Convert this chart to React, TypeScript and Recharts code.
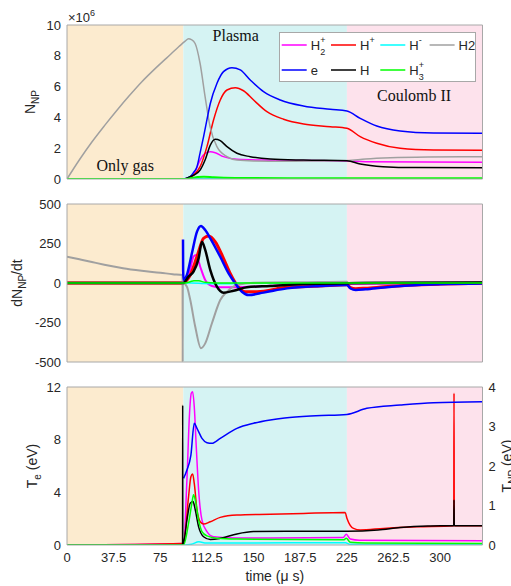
import { LineChart, Line, XAxis, YAxis, ReferenceArea, ReferenceDot, Legend } from 'recharts'

type Pt = [number, number]

const T_END = 334
const X_TICKS = [0, 37.5, 75, 112.5, 150, 187.5, 225, 262.5, 300]

const PHASES = [
  { from: 0, to: 93.5, fill: '#fcebcf' },
  { from: 93.5, to: 225, fill: '#d5f3f3' },
  { from: 225, to: T_END, fill: '#fde2ec' },
]
const PHASE_LABELS = [
  { text: 'Only gas', t: 46.8, n: 0.9 },
  { text: 'Plasma', t: 135.6, n: 9.32 },
  { text: 'Coulomb II', t: 279, n: 5.45 },
]

const C = {
  h2p: '#ff00ff',
  hp: '#ff0000',
  hm: '#00ffff',
  h2: '#a0a0a0',
  e: '#0000ff',
  h: '#000000',
  h3p: '#00ff00',
}

const AXIS = '#a8a8a8'
const TEXT = '#262626'
const FONT = '"Liberation Sans", Arial, sans-serif'

// ---- panel 1: number of particles (x 1e6)
const N_H2P: Pt[] = [[0, 0], [93.5, 0], [99, 0.05], [103, 0.5], [107, 1.23], [111, 1.67], [115.2, 1.77], [119.2, 1.71], [125.8, 1.45], [136.6, 1.28], [163, 1.22], [225, 1.17], [240, 1.12], [334, 1.08]]
const N_HP: Pt[] = [[0, 0], [93.5, 0], [99, 0.12], [103, 0.35], [107, 0.8], [112.5, 2.1], [117.8, 3.83], [123.2, 5.13], [128.6, 5.78], [135.3, 5.93], [141.9, 5.73], [150, 5.13], [160.7, 4.37], [174.1, 3.88], [190.2, 3.57], [211.6, 3.4], [225, 3.29], [235.7, 2.75], [249, 2.32], [267.8, 1.99], [294.6, 1.88], [334, 1.86]]
const N_HM: Pt[] = [[0, 0], [95, 0], [110, 0.02], [150, 0.02], [334, 0.01]]
const N_H2: Pt[] = [[0, 0], [10, 1.25], [20, 2.4], [30, 3.45], [40, 4.45], [50, 5.4], [60, 6.3], [70, 7.1], [80, 7.85], [90, 8.6], [95, 8.95], [97.7, 9.1], [100, 9.05], [103, 8.8], [107, 7.5], [111, 5.35], [115, 3.4], [120.5, 2.1], [128.6, 1.45], [136.6, 1.23], [150, 1.17], [175, 1.15], [200, 1.17], [225, 1.2], [240, 1.3], [260, 1.38], [290, 1.43], [334, 1.45]]
const N_E: Pt[] = [[0, 0], [93.5, 0], [96, 0.05], [99, 0.15], [101.5, 0.4], [104.5, 0.8], [107, 1.7], [109.8, 2.75], [112.5, 3.85], [115.2, 4.9], [120.5, 6.2], [125.8, 6.97], [132.6, 7.23], [139.3, 7.08], [147.3, 6.43], [158, 5.67], [171.4, 5.13], [190, 4.74], [211.6, 4.53], [225, 4.42], [235.7, 3.94], [249, 3.44], [267.8, 3.12], [294.6, 2.99], [334, 2.97]]
const N_H: Pt[] = [[0, 0], [93.5, 0], [99, 0.15], [103, 0.3], [107, 0.58], [111, 1.23], [115.2, 2.2], [119.2, 2.58], [123.2, 2.49], [128.6, 2.1], [136.6, 1.67], [147.3, 1.45], [163.4, 1.3], [190, 1.23], [225, 1.19], [235.7, 0.97], [254, 0.8], [280, 0.74], [334, 0.73]]
const N_H3P: Pt[] = [[0, 0], [95, 0], [100, 0.06], [105, 0.13], [110, 0.15], [118, 0.11], [135, 0.07], [180, 0.05], [334, 0.05]]

// ---- panel 2: dN/dt
const D_H2P: Pt[] = [[0, 0], [93.5, 0], [97.7, 40], [101.7, 167], [103.8, 177], [107.1, 103], [111.1, 19], [116.5, -19], [123.2, -27], [133.9, -27], [150, -23], [180, -12], [225, -5], [334, 0]]
const D_HP: Pt[] = [[0, 0], [93.5, 0], [96, 15], [99.1, 51], [104.5, 167], [109.8, 283], [113.8, 298], [119.2, 261], [125.8, 156], [131.2, 61], [136.6, -13], [143.3, -55], [152.7, -55], [176.8, -27], [203.5, -19], [225, -11], [228, -30], [232, -36], [240, -33], [255, -24], [275, -14], [300, -7], [334, -2]]
const D_HM: Pt[] = [[0, 0], [100, 0], [110, -3], [125, -5], [145, -2], [170, 0], [334, 0]]
const D_H2: Pt[] = [[0, 167], [10, 150], [20, 133], [30, 116], [37.5, 104], [45, 93], [60, 77], [75, 65], [85, 56], [92.9, 50], [93, -500], [93.1, 0], [96.4, -23], [99.1, -108], [103.1, -277], [107.7, -413], [111.1, -382], [116.5, -255], [123.2, -108], [128.6, -55], [136.6, -13], [150, 2], [190, 5], [225, 8], [226, 0], [240, 5], [280, 6], [334, 7]]
const D_E: Pt[] = [[93.25, 275], [93.35, 82], [93.7, 19], [96.4, 51], [100.4, 188], [104.5, 325], [107.7, 361], [111.1, 335], [115.2, 283], [123.2, 166], [129.9, 61], [135.2, -2], [140.6, -55], [146, -76], [158, -61], [176.8, -34], [203.5, -19], [225, -13], [228, -35], [232, -44], [240, -40], [255, -28], [275, -16], [300, -8], [334, -3]]
const D_H: Pt[] = [[0, 0], [93.5, 0], [97.7, 40], [101.7, 72], [105.8, 156], [108.5, 261], [111.1, 209], [115.2, 82], [120.5, -23], [125.8, -61], [133.9, -49], [144.6, -27], [163.4, -19], [190.2, -6], [225, -2], [250, 0], [334, 3]]
const D_H3P: Pt[] = [[0, 0], [95, 0], [99, 8], [102, 15], [106, 14], [111, 4], [120, 0], [334, 0]]

// ---- panel 3: temperatures (electrons on left axis, the rest on right axis)
const T_E: Pt[] = [[93.7, 5.06], [96.4, 5.69], [99.6, 6.83], [102.3, 9.24], [104.5, 8.86], [108.5, 8.1], [112.5, 7.77], [116.5, 7.72], [123.2, 8.1], [136.6, 8.86], [150, 9.25], [163.4, 9.5], [175, 9.65], [200, 9.82], [225, 9.92], [241, 10.38], [267.8, 10.63], [294.6, 10.81], [334, 10.88]]
const T_H2P: Pt[] = [[0, 0], [93.7, 0.04], [96.4, 1.65], [98.5, 3.33], [99.9, 3.84], [101, 3.88], [102.3, 3.5], [103.9, 2.49], [105.8, 1.39], [108.5, 0.63], [112.5, 0.34], [117.8, 0.21], [136.6, 0.18], [163.4, 0.18], [222, 0.19], [224.5, 0.27], [227.7, 0.15], [235, 0.12], [334, 0.11]]
const T_HP: Pt[] = [[0, 0], [93.7, 0.04], [97.7, 1.22], [99.6, 1.73], [101, 1.8], [102.3, 1.56], [104.5, 0.89], [107.1, 0.59], [109.8, 0.53], [115.2, 0.59], [123.2, 0.7], [136.6, 0.76], [163.4, 0.78], [190.2, 0.8], [223.6, 0.82], [225, 0.68], [230.3, 0.42], [235.7, 0.38], [254.4, 0.42], [281.3, 0.46], [310.9, 0.49], [311.1, 3.84], [311.3, 0.49], [334, 0.49]]
const T_HM: Pt[] = [[0, 0], [95, 0], [100, 0.02], [106, 0.08], [112, 0.05], [130, 0.05], [224, 0.06], [227, 0.02], [334, 0.02]]
const T_H: Pt[] = [[0, 0], [92.9, 0], [93, 3.54], [93.1, 0.02], [93.7, 0.04], [96.4, 0.63], [99.1, 1.06], [101.3, 1.1], [103.1, 0.89], [105.8, 0.46], [109.8, 0.21], [115.2, 0.14], [123.2, 0.17], [136.6, 0.28], [150, 0.34], [176.8, 0.35], [225, 0.35], [250, 0.38], [267.8, 0.44], [290, 0.48], [310.9, 0.49], [311.1, 1.14], [311.3, 0.49], [334, 0.49]]
const T_H3P: Pt[] = [[0, 0], [93.7, 0], [97.7, 0.55], [100.4, 1.06], [101.7, 1.27], [103.1, 1.14], [105.8, 0.63], [108.5, 0.34], [112.5, 0.23], [120.5, 0.17], [136.6, 0.15], [222.3, 0.13], [224.5, 0.17], [227.7, 0.07], [240, 0.05], [334, 0.04]]

const LEGEND = [
  { color: C.h2p, base: 'H', sub: '2', sup: '+' },
  { color: C.hp, base: 'H', sup: '+' },
  { color: C.hm, base: 'H', sup: '-' },
  { color: C.h2, base: 'H2' },
  { color: C.e, base: 'e' },
  { color: C.h, base: 'H' },
  { color: C.h3p, base: 'H', sub: '3', sup: '+' },
]

const rows = (pts: Pt[]) => pts.map(([t, v]) => ({ t, v }))
const tickStyle = { fontSize: 13, fill: TEXT, fontFamily: FONT }

function renderLegend() {
  return (
    <svg width={197} height={50} style={{ display: 'block' }}>
      <rect x={0.5} y={0.5} width={196} height={49} fill="#fff" stroke={AXIS} />
      {LEGEND.map((it, i) => {
        const x = 2.7 + (i % 4) * 49.3
        const y = i < 4 ? 13 : 38
        return (
          <g key={i} fontFamily={FONT} fill={TEXT}>
            <line x1={x} x2={x + 25} y1={y} y2={y} stroke={it.color} strokeWidth={1.5} />
            <text x={x + 29} y={y + 5} fontSize={13}>{it.base}</text>
            {it.sup && <text x={x + 38.5} y={y - 2} fontSize={9}>{it.sup}</text>}
            {it.sub && <text x={x + 38.5} y={y + 10} fontSize={9}>{it.sub}</text>}
          </g>
        )
      })}
    </svg>
  )
}

const yTitle = (main: string, sub: string, rest: string, dx: number) => (props: any) => {
  const vb = props.viewBox
  const cx = vb.x + dx
  const cy = vb.y + vb.height / 2
  return (
    <text transform={`translate(${cx},${cy}) rotate(-90)`} textAnchor="middle" fontSize={14} fill={TEXT} fontFamily={FONT}>
      {main}
      <tspan fontSize={10} dy={4}>{sub}</tspan>
      {rest && <tspan fontSize={14} dy={-4}>{rest}</tspan>}
    </text>
  )
}

const nTitle = (props: any) => {
  const vb = props.viewBox
  return (
    <g>
      {yTitle('N', 'NP', '', 35)(props)}
      <text x={vb.x + vb.width + 1} y={vb.y - 3} fontSize={13} fill={TEXT} fontFamily={FONT}>
        ×10<tspan fontSize={9} dy={-6}>6</tspan>
      </text>
    </g>
  )
}

const timeTitle = (props: any) => {
  const vb = props.viewBox
  return (
    <text x={vb.x + vb.width / 2} y={vb.y + 36} textAnchor="middle" fontSize={14} fill={TEXT} fontFamily={FONT}>
      time (μ s)
    </text>
  )
}

// inward tick marks + box on top/right, MATLAB style
function frame(yId: string, yDomain: [number, number], yTicks: number[], withRight: boolean) {
  const out = [
    <XAxis key="xb" xAxisId="xb" type="number" domain={[0, T_END]} ticks={X_TICKS} allowDataOverflow mirror tick={false} tickSize={4} tickLine={{ stroke: AXIS }} axisLine={false} />,
    <XAxis key="xt" xAxisId="xt" orientation="top" type="number" domain={[0, T_END]} ticks={X_TICKS} allowDataOverflow mirror tick={false} tickSize={4} tickLine={{ stroke: AXIS }} axisLine={{ stroke: AXIS }} />,
    <YAxis key="lm" yAxisId={yId + 'm'} type="number" domain={yDomain} ticks={yTicks} allowDataOverflow mirror tick={false} tickSize={4} tickLine={{ stroke: AXIS }} axisLine={false} />,
  ]
  if (withRight) {
    out.push(
      <YAxis key="rm" yAxisId="rm" orientation="right" type="number" domain={yDomain} ticks={yTicks} allowDataOverflow mirror tick={false} tickSize={4} tickLine={{ stroke: AXIS }} axisLine={{ stroke: AXIS }} />
    )
  }
  return out
}

function phases(yId: string) {
  return PHASES.map((p) => (
    <ReferenceArea key={p.from} xAxisId="x" yAxisId={yId} x1={p.from} x2={p.to} fill={p.fill} fillOpacity={1} stroke="none" />
  ))
}

function series(list: { d: Pt[]; c: string; w?: number; y?: string }[], yDefault: string) {
  return list.map((s, i) => (
    <Line key={i} data={rows(s.d)} xAxisId="x" yAxisId={s.y ?? yDefault} dataKey="v" type="monotone" stroke={s.c} strokeWidth={s.w ?? 1.5} dot={false} isAnimationActive={false} />
  ))
}

export default function App() {
  return (
    <div style={{ position: 'absolute', left: 0, top: 0, width: 511, height: 586, overflow: 'hidden', background: '#fff' }}>
      <div style={{ position: 'absolute', left: 0, top: 0 }}>
        <LineChart width={511} height={200} margin={{ top: 25, right: 28.5, bottom: 20, left: 0 }} style={{ fontFamily: FONT }}>
          <XAxis xAxisId="x" dataKey="t" type="number" domain={[0, T_END]} ticks={X_TICKS} allowDataOverflow height={1} tick={false} tickLine={false} axisLine={{ stroke: AXIS }} />
          <YAxis yAxisId="l" type="number" domain={[0, 10]} ticks={[0, 2, 4, 6, 8, 10]} allowDataOverflow width={67} tickLine={false} tickMargin={0} axisLine={{ stroke: AXIS }} tick={tickStyle} label={nTitle} />
          {frame('l', [0, 10], [0, 2, 4, 6, 8, 10], true)}
          {phases('l')}
          {PHASE_LABELS.map((p) => (
            <ReferenceDot key={p.text} xAxisId="x" yAxisId="l" x={p.t} y={p.n} r={0} fill="none" stroke="none"
              label={{ value: p.text, position: 'center', fill: '#111', fontSize: 16, fontFamily: '"Liberation Serif", "Times New Roman", serif' }} />
          ))}
          {series([
            { d: N_H2P, c: C.h2p },
            { d: N_HP, c: C.hp },
            { d: N_HM, c: C.hm },
            { d: N_H2, c: C.h2 },
            { d: N_E, c: C.e },
            { d: N_H, c: C.h },
            { d: N_H3P, c: C.h3p, w: 2 },
          ], 'l')}
          <Legend layout="horizontal" verticalAlign="middle" align="center" content={renderLegend}
            wrapperStyle={{ left: 279, top: 32, width: 197, height: 50 }} />
        </LineChart>
      </div>

      <div style={{ position: 'absolute', left: 0, top: 179 }}>
        <LineChart width={511} height={204} margin={{ top: 25, right: 28.5, bottom: 20, left: 0 }} style={{ fontFamily: FONT }}>
          <XAxis xAxisId="x" dataKey="t" type="number" domain={[0, T_END]} ticks={X_TICKS} allowDataOverflow height={1} tick={false} tickLine={false} axisLine={{ stroke: AXIS }} />
          <YAxis yAxisId="l" type="number" domain={[-500, 500]} ticks={[-500, -250, 0, 250, 500]} allowDataOverflow width={67} tickLine={false} tickMargin={0} axisLine={{ stroke: AXIS }} tick={tickStyle} label={yTitle('dN', 'NP', '/dt', 22)} />
          {frame('l', [-500, 500], [-500, -250, 0, 250, 500], true)}
          {phases('l')}
          {series([
            { d: D_H2P, c: C.h2p, w: 2 },
            { d: D_HP, c: C.hp, w: 3 },
            { d: D_HM, c: C.hm },
            { d: D_H2, c: C.h2, w: 2 },
            { d: D_E, c: C.e, w: 2.5 },
            { d: D_H, c: C.h, w: 2.5 },
            { d: D_H3P, c: C.h3p },
          ], 'l')}
        </LineChart>
      </div>

      <div style={{ position: 'absolute', left: 0, top: 362 }}>
        <LineChart width={511} height={224} margin={{ top: 25, right: 0, bottom: 0, left: 0 }} style={{ fontFamily: FONT }}>
          <XAxis xAxisId="x" dataKey="t" type="number" domain={[0, T_END]} ticks={X_TICKS} allowDataOverflow height={41} tickLine={false} tickMargin={2} axisLine={{ stroke: AXIS }} tick={tickStyle} label={timeTitle} />
          <YAxis yAxisId="l" type="number" domain={[0, 12]} ticks={[0, 4, 8, 12]} allowDataOverflow width={67} tickLine={false} tickMargin={0} axisLine={{ stroke: AXIS }} tick={tickStyle} label={yTitle('T', 'e', ' (eV)', 36.5)} />
          <YAxis yAxisId="r" orientation="right" type="number" domain={[0, 4]} ticks={[0, 1, 2, 3, 4]} allowDataOverflow width={28.5} tickLine={false} tickMargin={0} axisLine={{ stroke: AXIS }} tick={tickStyle} label={yTitle('T', 'NP', ' (eV)', 29.5)} />
          {frame('l', [0, 12], [0, 4, 8, 12], false)}
          <YAxis yAxisId="rm" orientation="right" type="number" domain={[0, 4]} ticks={[0, 1, 2, 3, 4]} allowDataOverflow mirror tick={false} tickSize={4} tickLine={{ stroke: AXIS }} axisLine={false} />
          {phases('l')}
          {series([
            { d: T_H2P, c: C.h2p, y: 'r' },
            { d: T_HP, c: C.hp, y: 'r' },
            { d: T_HM, c: C.hm, y: 'r' },
            { d: T_E, c: C.e },
            { d: T_H, c: C.h, y: 'r' },
            { d: T_H3P, c: C.h3p, y: 'r' },
          ], 'l')}
        </LineChart>
      </div>
    </div>
  )
}
